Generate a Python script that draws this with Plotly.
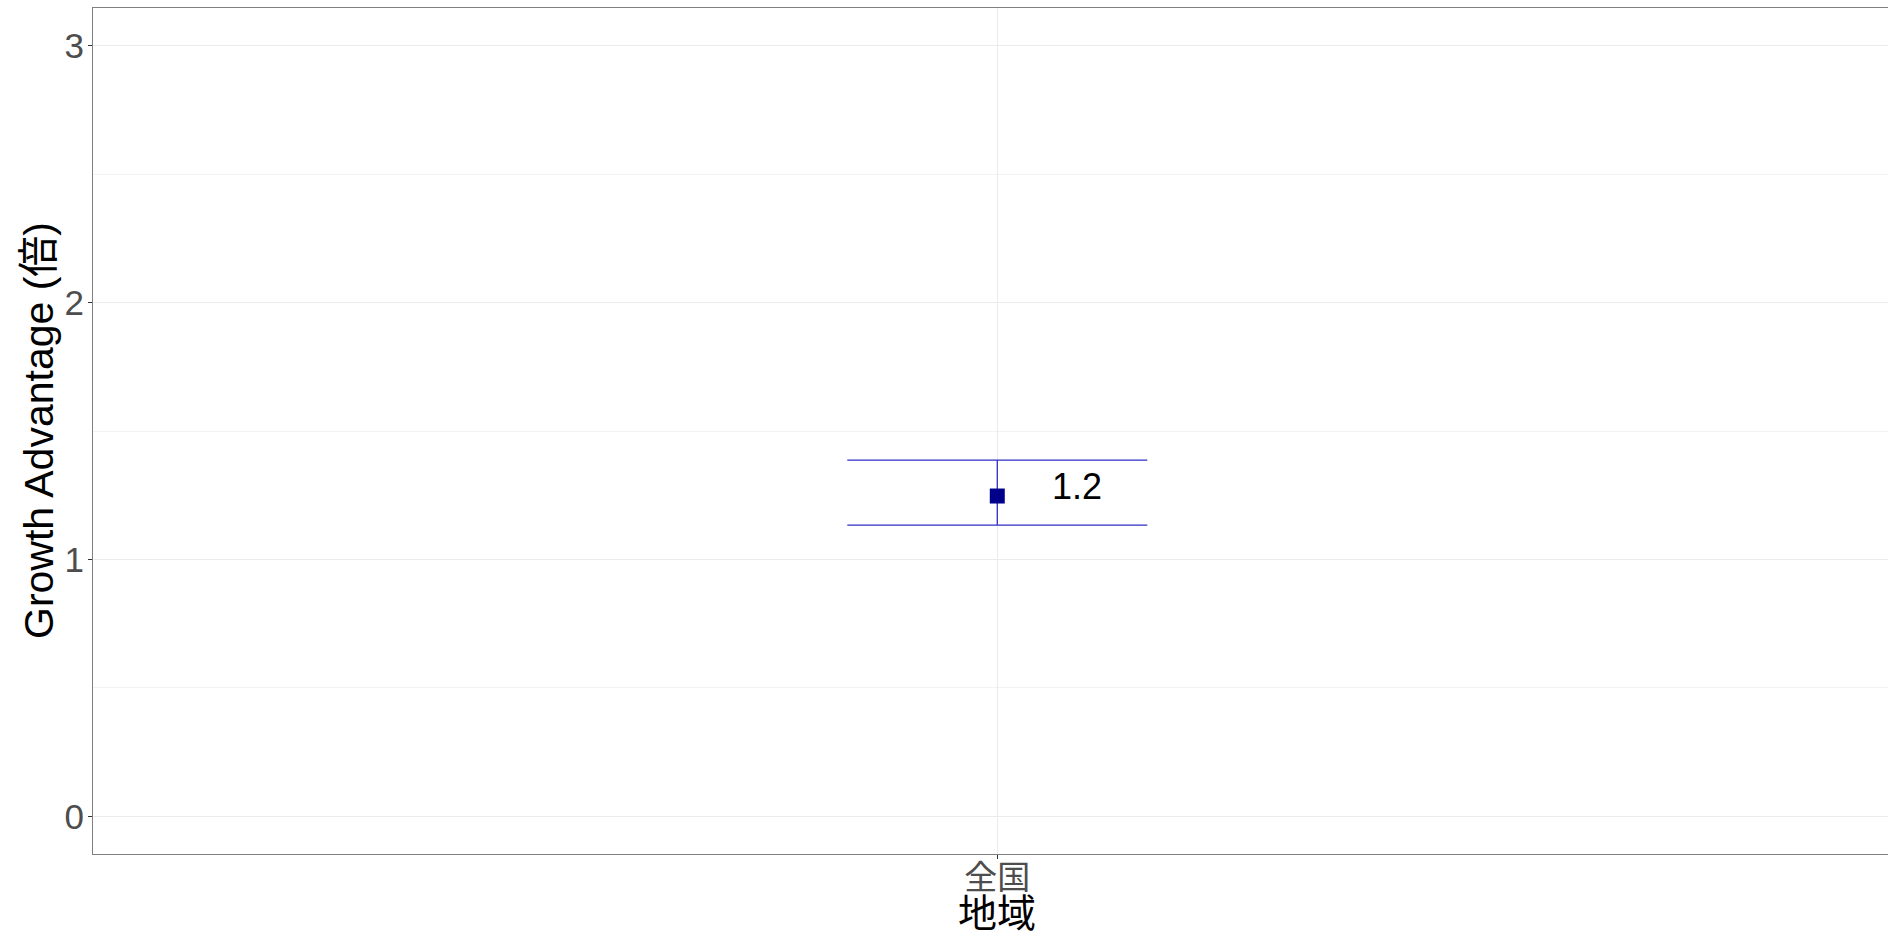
import plotly.graph_objects as go

categories = ["全国"]
values = [1.247]
ci_low = [1.134]
ci_high = [1.387]
labels = ["1.2"]
x_title = "地域"
y_title = "Growth Advantage (倍)"

FONT = "Liberation Sans, Arial, Noto Sans CJK JP, sans-serif"

fig = go.Figure()
fig.add_trace(go.Scatter(
    x=categories, y=values, mode="markers",
    marker=dict(symbol="square", size=15, color="#00008B"),
    error_y=dict(type="data", symmetric=False,
                 array=[h - v for h, v in zip(ci_high, values)],
                 arrayminus=[v - l for v, l in zip(values, ci_low)],
                 color="#2E2EC4", thickness=1.3, width=150),
    showlegend=False, cliponaxis=False,
))
for c, v, t in zip(categories, values, labels):
    fig.add_annotation(x=c, y=v, text=t, showarrow=False, xshift=80, yshift=10,
                       font=dict(family=FONT, size=36, color="black"))

# axis titles
fig.add_annotation(x=categories[0], xref="x", y=0, yref="paper", yanchor="middle",
                   yshift=-59, text=x_title, showarrow=False,
                   font=dict(family=FONT, size=39, color="black"))
fig.add_annotation(x=0, xref="paper", xanchor="center", xshift=-54, y=0.5, yref="paper",
                   yanchor="middle", textangle=-90, text=y_title, showarrow=False,
                   font=dict(family=FONT, size=41, color="black"))

fig.update_layout(
    width=1888, height=936,
    margin=dict(l=93, r=0, t=8, b=82),
    paper_bgcolor="white", plot_bgcolor="white",
    font=dict(family=FONT),
)
fig.update_xaxes(
    type="category", range=[-0.6, 0.591], automargin=False,
    showgrid=True, gridcolor="#EBEBEB", gridwidth=1.2,
    ticks="outside", ticklen=4, tickcolor="#333333", tickwidth=1,
    ticklabelstandoff=-10,
    tickfont=dict(family=FONT, size=33, color="#4D4D4D"),
    showline=True, linecolor="#808080", linewidth=1, mirror=True, zeroline=False,
)
fig.update_yaxes(
    range=[-0.146, 3.146], tickvals=[0, 1, 2, 3], automargin=False,
    showgrid=True, gridcolor="#EBEBEB", gridwidth=1.2,
    minor=dict(tickvals=[0.5, 1.5, 2.5], showgrid=True, gridcolor="#F3F3F3", gridwidth=1, ticks=""),
    ticks="outside", ticklen=4, tickcolor="#333333", tickwidth=1,
    ticklabelstandoff=-3,
    tickfont=dict(family=FONT, size=35, color="#4D4D4D"),
    showline=True, linecolor="#808080", linewidth=1, mirror=False, zeroline=False,
)

fig.write_html("out.html")
